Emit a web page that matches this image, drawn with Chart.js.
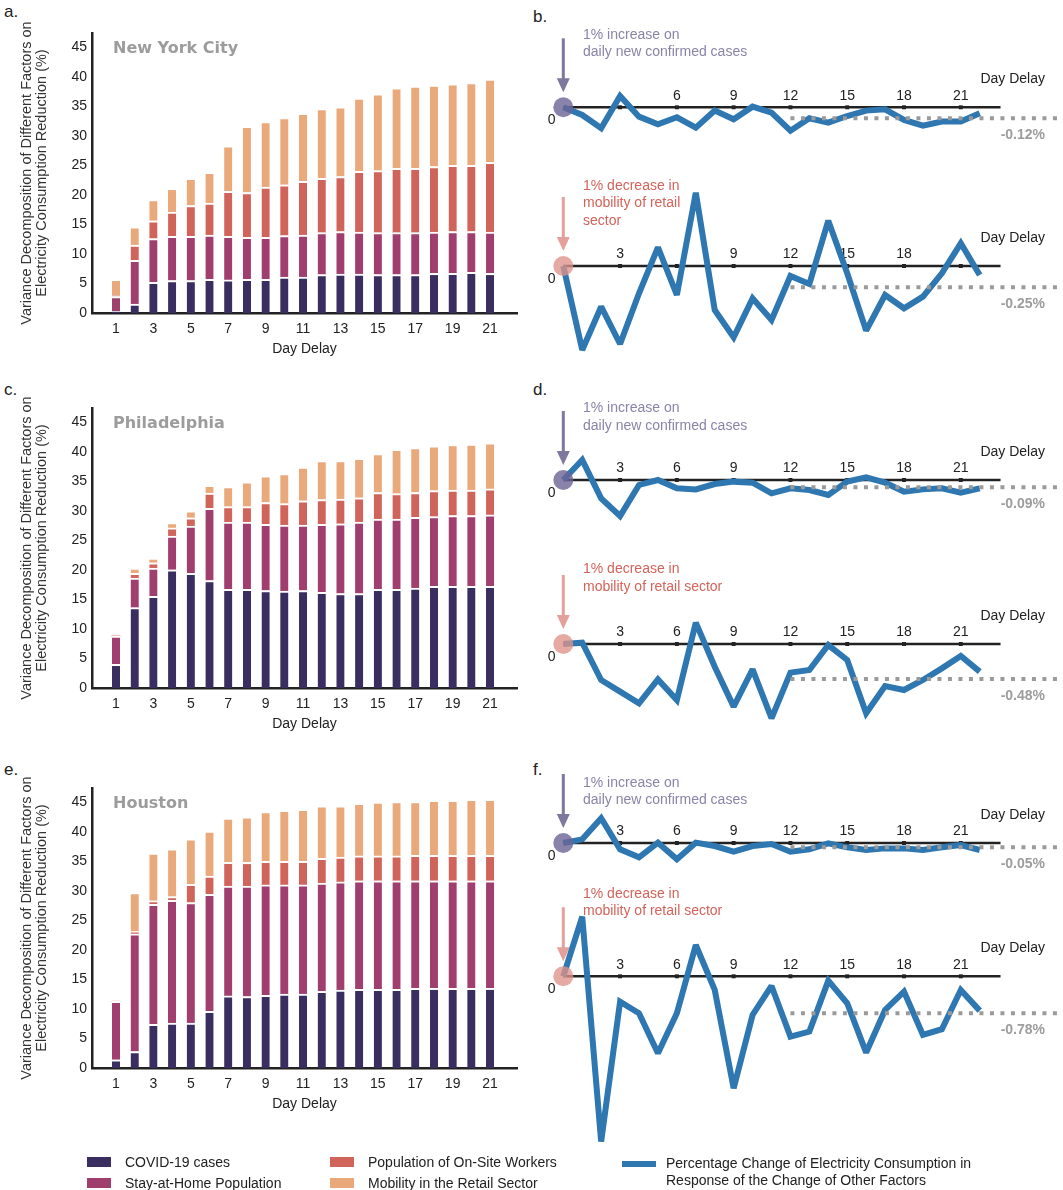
<!DOCTYPE html>
<html><head><meta charset="utf-8">
<script src="https://cdn.jsdelivr.net/npm/chart.js@4.4.1/dist/chart.umd.min.js"></script>
<style>
html,body{margin:0;padding:0;background:#fff;}
body{width:1063px;height:1190px;position:relative;overflow:hidden;font-family:"Liberation Sans",Arial,sans-serif;}
.box{position:absolute;}
.letter{position:absolute;font-size:17px;color:#222;line-height:20px;}
.lg{position:absolute;font-size:14px;color:#222;line-height:17px;white-space:nowrap;}
.sw{position:absolute;}
</style></head>
<body>
<div class="letter" style="left:4px;top:2px">a.</div>
<div class="letter" style="left:533px;top:7px">b.</div>
<div class="letter" style="left:4px;top:380px">c.</div>
<div class="letter" style="left:533px;top:380px">d.</div>
<div class="letter" style="left:4px;top:760px">e.</div>
<div class="letter" style="left:533px;top:760px">f.</div>

<div class="box" style="left:0;top:0;width:530px;height:370px"><canvas id="barA"></canvas></div>
<div class="box" style="left:0;top:375px;width:530px;height:370px"><canvas id="barC"></canvas></div>
<div class="box" style="left:0;top:755px;width:530px;height:370px"><canvas id="barE"></canvas></div>
<div class="box" style="left:530px;top:0;width:533px;height:370px"><canvas id="lineB"></canvas></div>
<div class="box" style="left:530px;top:380px;width:533px;height:370px"><canvas id="lineD"></canvas></div>
<div class="box" style="left:530px;top:760px;width:533px;height:430px"><canvas id="lineF"></canvas></div>

<div id="legend"></div>

<script>
// ---------------- data ----------------
const days = [1,2,3,4,5,6,7,8,9,10,11,12,13,14,15,16,17,18,19,20,21];
const dayTicks = [1,3,5,7,9,11,13,15,17,19,21];
const yTicks = [0,5,10,15,20,25,30,35,40,45];
const factorNames = ['COVID-19 cases','Stay-at-Home Population','Population of On-Site Workers','Mobility in the Retail Sector'];
const factorColors = ['#3a2d5f','#a03e6e','#d0645a','#eaa97b'];

const nycCovid    = [0.3,1.5,5.2,5.5,5.5,5.7,5.6,5.7,5.7,6.1,6.1,6.5,6.6,6.6,6.5,6.5,6.5,6.7,6.7,6.9,6.7];
const nycStay     = [2.5,7.4,7.4,7.5,7.5,7.5,7.4,7.1,7.1,7.0,7.1,7.1,7.2,7.1,7.1,7.1,7.1,7.0,7.1,6.9,7.0];
const nycOnsite   = [0.2,2.6,3.0,4.1,5.2,5.4,7.6,7.6,8.5,8.6,9.1,9.2,9.3,10.3,10.5,10.9,10.9,11.1,11.2,11.2,11.8];
const nycMobility = [2.7,3.1,3.6,4.0,4.6,5.2,7.7,11.2,11.1,11.4,11.5,11.8,11.8,12.4,13.0,13.6,13.9,13.8,13.8,14.0,14.1];

const phlCovid    = [4.0,13.6,15.5,20.0,19.4,18.2,16.7,16.7,16.5,16.4,16.5,16.2,16.0,16.0,16.7,16.7,16.9,17.2,17.2,17.2,17.2];
const phlStay     = [4.8,5.0,4.8,5.7,8.0,12.2,11.4,11.4,11.2,11.2,11.1,11.5,11.8,12.1,11.9,11.9,12.0,11.8,12.0,12.0,12.1];
const phlOnsite   = [0,0.8,0.9,1.4,1.4,2.6,2.6,2.6,3.7,3.6,4.1,4.2,4.2,4.1,4.5,4.3,4.2,4.4,4.3,4.3,4.4];
const phlMobility = [0,0.9,0.8,0.9,1.2,1.3,3.4,4.2,4.5,5.1,5.7,6.6,6.5,6.7,6.6,7.5,7.6,7.6,7.7,7.8,7.8];

const houCovid    = [1.4,2.8,7.4,7.6,7.6,9.6,12.2,12.1,12.3,12.5,12.5,13.0,13.2,13.3,13.3,13.3,13.5,13.5,13.5,13.5,13.5];
const houStay     = [9.9,19.9,20.3,20.8,20.4,19.8,18.6,18.7,18.7,18.5,18.5,18.3,18.3,18.4,18.4,18.4,18.2,18.2,18.2,18.2,18.2];
const houOnsite   = [0,0.4,0.6,0.6,3.1,3.1,4.0,4.0,4.0,4.0,4.0,4.2,4.2,4.2,4.2,4.2,4.3,4.3,4.3,4.3,4.3];
const houMobility = [0,6.6,8.1,8.1,7.7,7.6,7.5,7.7,8.4,8.6,8.8,8.9,8.7,8.9,9.1,9.2,9.1,9.3,9.3,9.5,9.5];

const lagDays = [0,1,2,3,4,5,6,7,8,9,10,11,12,13,14,15,16,17,18,19,20,21,22];
const lagTicks = [3,6,9,12,15,18,21];
const lagTicksNycCases = [6,9,12,15,18,21];
const lagTicksNycRetail = [3,9,12,15,18];

const nycCasesResp  = [0,-0.084,-0.229,0.124,-0.102,-0.185,-0.109,-0.222,-0.036,-0.131,0.007,-0.058,-0.255,-0.12,-0.167,-0.095,-0.036,-0.022,-0.138,-0.2,-0.156,-0.156,-0.065];
const nycRetailResp = [0,-0.984,-0.477,-0.914,-0.320,0.219,-0.340,0.859,-0.516,-0.836,-0.379,-0.633,-0.117,-0.211,0.531,-0.086,-0.758,-0.340,-0.496,-0.359,-0.086,0.266,-0.105];
const phlCasesResp  = [0,0.245,-0.225,-0.442,-0.061,0,-0.102,-0.115,-0.049,-0.020,-0.033,-0.164,-0.102,-0.123,-0.184,-0.020,0.033,-0.033,-0.143,-0.115,-0.102,-0.155,-0.102];
const phlRetailResp = [0,0.018,-0.494,-0.654,-0.814,-0.485,-0.768,0.293,-0.311,-0.859,-0.347,-1.019,-0.393,-0.357,-0.014,-0.219,-0.951,-0.576,-0.631,-0.494,-0.334,-0.165,-0.379];
const houCasesResp  = [0,0.042,0.285,-0.073,-0.165,0.004,-0.188,0.004,-0.035,-0.1,-0.035,-0.012,-0.1,-0.073,-0.004,-0.05,-0.081,-0.062,-0.062,-0.081,-0.05,-0.023,-0.081];
const houRetailResp = [0,1.258,-3.485,-0.534,-0.78,-1.623,-0.78,0.661,-0.288,-2.361,-0.815,-0.204,-1.272,-1.166,-0.091,-0.569,-1.609,-0.710,-0.323,-1.237,-1.117,-0.288,-0.724];

const nycLongRun = [-0.12,-0.25];
const phlLongRun = [-0.09,-0.48];
const houLongRun = [-0.05,-0.78];
const longRunFrom = 12;

const casesText  = ['1% increase on','daily new confirmed cases'];
const retailText3 = ['1% decrease in','mobility of retail','sector'];
const retailText2 = ['1% decrease in','mobility of retail sector'];

// ---------------- styles ----------------
const FONT = '"Liberation Sans", Arial, sans-serif';
const LINE_BLUE = '#2e77b1';
Chart.defaults.font.family = FONT;
Chart.defaults.devicePixelRatio = 1;

const cityPlugin = {
  id:'cityTitle',
  afterDraw(chart, args, opts){
    const {ctx, chartArea} = chart;
    ctx.save();
    ctx.font = 'bold 16px "DejaVu Sans", sans-serif';
    ctx.fillStyle = '#9c9c9c';
    ctx.textBaseline = 'middle';
    ctx.textAlign = 'left';
    ctx.fillText(opts.text, chartArea.left + 21, chartArea.top + 16);
    ctx.restore();
  }
};

function makeBar(id, city, covid, stay, onsite, mobility){
  const series = [covid, stay, onsite, mobility];
  return new Chart(document.getElementById(id), {
    type:'bar',
    data:{datasets: series.map((vals,i)=>({
      label: factorNames[i],
      data: days.map((d,j)=>({x:d, y:vals[j]})),
      backgroundColor: factorColors[i],
      borderColor:'#ffffff',
      borderWidth:{top:2,right:0,bottom:0,left:0},
      borderSkipped:false,
      barThickness:8
    }))},
    options:{
      responsive:true, maintainAspectRatio:false, animation:false,
      layout:{padding:{top:33,right:13,left:0,bottom:0}},
      plugins:{legend:{display:false}, tooltip:{enabled:false}, cityTitle:{text:city}},
      scales:{
        x:{type:'linear', stacked:true, offset:false, min:-0.283, max:22.44,
          afterBuildTicks:s=>{ s.ticks = dayTicks.map(v=>({value:v})); },
          afterFit:s=>{ s.height = 57; },
          grid:{display:false, drawTicks:false},
          border:{color:'#222', width:2.5},
          ticks:{color:'#222', font:{size:14}, padding:8, autoSkip:false, maxRotation:0},
          title:{display:true, text:'Day Delay', color:'#222', font:{size:14}, padding:{top:0,bottom:12.6}}
        },
        y:{type:'linear', stacked:true, min:0, max:47.4,
          afterBuildTicks:s=>{ s.ticks = yTicks.map(v=>({value:v})); },
          afterFit:s=>{ s.width = 92; },
          grid:{display:false, drawTicks:false},
          border:{color:'#222', width:2.5},
          ticks:{color:'#222', font:{size:14}, padding:5},
          title:{display:true, text:['Variance Decomposition of Different Factors on','Electricity Consumption Reduction (%)'],
                 color:'#333', font:{size:14.5, lineHeight:1.08}, padding:{top:18.9,bottom:0}}
        }
      }
    },
    plugins:[cityPlugin]
  });
}

makeBar('barA','New York City', nycCovid, nycStay, nycOnsite, nycMobility);
makeBar('barC','Philadelphia', phlCovid, phlStay, phlOnsite, phlMobility);
makeBar('barE','Houston', houCovid, houStay, houOnsite, houMobility);

// ---------------- response panels ----------------
const respPlugin = {
  id:'respDecor',
  beforeDatasetsDraw(chart, args, opts){
    const ctx = chart.ctx, xs = chart.scales.x;
    const x0 = xs.getPixelForValue(0);
    const rightX = chart.width - 18;
    opts.panels.forEach(p=>{
      const ys = chart.scales[p.axis];
      const y0 = ys.getPixelForValue(0);
      const ym = ys.getPixelForValue(p.mean);
      ctx.save();
      ctx.textBaseline = 'middle';
      ctx.font = '14px ' + FONT;
      ctx.fillStyle = '#222';
      ctx.textAlign = 'center';
      p.ticks.forEach(t=>ctx.fillText(String(t), xs.getPixelForValue(t), y0 - 11.5));
      ctx.fillText('0', x0 - 11.6, y0 + 13.3);
      ctx.textAlign = 'right';
      ctx.fillText('Day Delay', rightX, y0 - 28);
      ctx.font = 'bold 14px ' + FONT;
      ctx.fillStyle = '#9d9d9d';
      ctx.fillText(p.mean.toFixed(2) + '%', rightX, ym + 17);
      ctx.font = '14px ' + FONT;
      ctx.textAlign = 'left';
      ctx.fillStyle = p.textColor;
      p.lines.forEach((l,i)=>ctx.fillText(l, x0 + 19.7, y0 + p.textOffset + i*17.5));
      // arrow
      ctx.strokeStyle = p.arrowColor; ctx.fillStyle = p.arrowColor; ctx.lineWidth = 3;
      ctx.beginPath(); ctx.moveTo(x0, y0 - 69); ctx.lineTo(x0, y0 - 26); ctx.stroke();
      ctx.beginPath(); ctx.moveTo(x0 - 6.5, y0 - 29); ctx.lineTo(x0 + 6.5, y0 - 29); ctx.lineTo(x0, y0 - 15); ctx.closePath(); ctx.fill();
      ctx.restore();
    });
    // keep sharp corners from shooting past the data points
    ctx.miterLimit = 2.2;
  }
};

function panelDatasets(axis, resp, mean, circleColor){
  return [
    {data:[{x:0,y:0}], yAxisID:axis, showLine:false, pointRadius:10, pointBackgroundColor:circleColor, pointBorderWidth:0, order:0, clip:false},
    {data:[{x:longRunFrom,y:mean},{x:26.4,y:mean}], yAxisID:axis, borderColor:'#9a9a9a', borderWidth:4, borderDash:[4,6.5], pointRadius:0, order:1, clip:false},
    {data:lagDays.map((d,i)=>({x:d,y:resp[i]})), yAxisID:axis, borderColor:LINE_BLUE, borderWidth:6, borderJoinStyle:'miter', tension:0, pointRadius:0, order:2, clip:false},
    {data:[{x:0,y:0},{x:23.1,y:0}], yAxisID:axis, borderColor:'#222', borderWidth:2.5, pointRadius:0, order:3, clip:false},
    {data:lagTicks.map(t=>({x:t,y:0})), yAxisID:axis, showLine:false, pointStyle:'rect', pointRadius:2.8, pointBackgroundColor:'#222', pointBorderWidth:0, order:3, clip:false}
  ];
}

function makeResp(id, height, top, bottom){
  const range = (axisPx, ppu)=>({min: -(height - axisPx)/ppu, max: axisPx/ppu});
  const r1 = range(top.axisPx, top.ppu), r2 = range(bottom.axisPx, bottom.ppu);
  return new Chart(document.getElementById(id), {
    type:'line',
    data:{datasets:[
      ...panelDatasets('yTop', top.resp, top.mean, 'rgba(108,100,150,0.8)'),
      ...panelDatasets('yBot', bottom.resp, bottom.mean, 'rgba(222,146,138,0.78)')
    ]},
    options:{
      responsive:true, maintainAspectRatio:false, animation:false,
      layout:{autoPadding:false, padding:{left:33.3,right:0,top:0,bottom:0}},
      plugins:{legend:{display:false}, tooltip:{enabled:false},
        respDecor:{panels:[
          {axis:'yTop', mean:top.mean, ticks:top.ticks, lines:top.lines, textOffset:top.textOffset, textColor:'#8a84a8', arrowColor:'#7e779e'},
          {axis:'yBot', mean:bottom.mean, ticks:bottom.ticks, lines:bottom.lines, textOffset:bottom.textOffset, textColor:'#d4635b', arrowColor:'#e4a19b'}
        ]}},
      scales:{
        x:{type:'linear', min:0, max:26.4, display:false},
        yTop:{type:'linear', position:'left', display:false, min:r1.min, max:r1.max},
        yBot:{type:'linear', position:'left', display:false, min:r2.min, max:r2.max}
      }
    },
    plugins:[respPlugin]
  });
}

makeResp('lineB', 370,
  {resp:nycCasesResp, mean:nycLongRun[0], axisPx:107.3, ppu:91.67, ticks:lagTicksNycCases, lines:casesText, textOffset:-72.3},
  {resp:nycRetailResp, mean:nycLongRun[1], axisPx:266, ppu:85.33, ticks:lagTicksNycRetail, lines:retailText3, textOffset:-80});
makeResp('lineD', 370,
  {resp:phlCasesResp, mean:phlLongRun[0], axisPx:100, ppu:81.5, ticks:lagTicks, lines:casesText, textOffset:-71.7},
  {resp:phlRetailResp, mean:phlLongRun[1], axisPx:264, ppu:72.9, ticks:lagTicks, lines:retailText2, textOffset:-74.7});
makeResp('lineF', 430,
  {resp:houCasesResp, mean:houLongRun[0], axisPx:83, ppu:86.7, ticks:lagTicks, lines:casesText, textOffset:-60.3},
  {resp:houRetailResp, mean:houLongRun[1], axisPx:216.3, ppu:47.4, ticks:lagTicks, lines:retailText2, textOffset:-82.3});

// ---------------- legend ----------------
const legendItems = [
  {text:factorNames[0], color:factorColors[0], sx:87, ty:1154},
  {text:factorNames[1], color:factorColors[1], sx:87, ty:1175},
  {text:factorNames[2], color:factorColors[2], sx:330, ty:1154},
  {text:factorNames[3], color:factorColors[3], sx:330, ty:1175}
];
const lg = document.getElementById('legend');
legendItems.forEach(it=>{
  const sw = document.createElement('div');
  sw.className='sw';
  sw.style.cssText = `left:${it.sx}px;top:${it.ty+3}px;width:24px;height:10px;background:${it.color}`;
  lg.appendChild(sw);
  const t = document.createElement('div');
  t.className='lg';
  t.style.cssText = `left:${it.sx+38}px;top:${it.ty}px`;
  t.textContent = it.text;
  lg.appendChild(t);
});
const lsw = document.createElement('div');
lsw.className='sw';
lsw.style.cssText = `left:622px;top:1161px;width:34px;height:6px;background:${LINE_BLUE}`;
lg.appendChild(lsw);
const lt = document.createElement('div');
lt.className='lg';
lt.style.cssText = 'left:666px;top:1155px';
lt.innerHTML = 'Percentage Change of Electricity Consumption in<br>Response of the Change of Other Factors';
lg.appendChild(lt);
</script>
</body></html>
